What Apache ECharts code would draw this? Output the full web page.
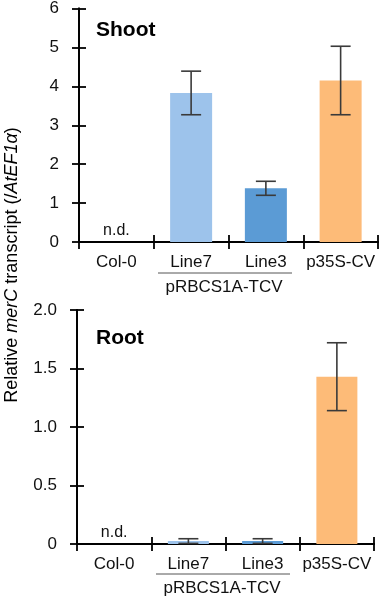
<!DOCTYPE html>
<html>
<head>
<meta charset="utf-8">
<script src="https://cdn.jsdelivr.net/npm/echarts@6/dist/echarts.min.js"></script>
<style>
  html, body { margin: 0; padding: 0; background: #fff; }
  #main { width: 383px; height: 602px; }
</style>
</head>
<body>
<div id="main"></div>
<script>
var categories = ['Col-0', 'Line7', 'Line3', 'p35S-CV'];
var barColors = ['#9dc3eb', '#9dc3eb', '#5b9bd5', '#fdbb78'];

// Shoot
var shootMean = [0, 3.83, 1.38, 4.15];
var shootSd = [0, 0.56, 0.18, 0.88];
var shootTicks = [0, 1, 2, 3, 4, 5, 6];

// Root
var rootMean = [0, 0.025, 0.025, 1.43];
var rootSd = [0, 0.02, 0.02, 0.29];
var rootTicks = [0, 0.5, 1.0, 1.5, 2.0];

var FONT = '"Liberation Sans", Arial, Helvetica, sans-serif';

var chart = echarts.init(document.getElementById('main'));

function barData(means) {
    return means.map(function (v, i) {
        if (i === 0) {
            return {
                value: 0,
                itemStyle: { color: 'transparent' },
                label: {
                    show: true, position: 'top', distance: 3,
                    formatter: 'n.d.', fontSize: 16, color: '#111', fontFamily: FONT
                }
            };
        }
        return { value: v, itemStyle: { color: barColors[i] } };
    });
}

function errData(means, sds) {
    var out = [];
    for (var i = 1; i < means.length; i++) {
        out.push([i, means[i] - sds[i], means[i] + sds[i]]);
    }
    return out;
}

function renderErr(params, api) {
    var lo = api.coord([api.value(0), api.value(1)]);
    var hi = api.coord([api.value(0), api.value(2)]);
    var half = 10;
    var st = { stroke: '#3a3a3a', lineWidth: 1.6 };
    return {
        type: 'group',
        children: [
            { type: 'line', shape: { x1: hi[0], y1: hi[1], x2: lo[0], y2: lo[1] }, style: st },
            { type: 'line', shape: { x1: hi[0] - half, y1: hi[1], x2: hi[0] + half, y2: hi[1] }, style: st },
            { type: 'line', shape: { x1: lo[0] - half, y1: lo[1], x2: lo[0] + half, y2: lo[1] }, style: st }
        ]
    };
}

function xAx(grid, inside) {
    return {
        type: 'category', gridIndex: grid, data: categories, position: 'bottom',
        axisLine: { show: true, lineStyle: { color: '#000', width: 1.8 } },
        axisTick: { show: true, inside: inside, length: 7, lineStyle: { color: '#000', width: 1.8 } },
        axisLabel: { show: !inside, interval: 0, margin: 12, fontSize: 17, color: '#111', fontFamily: FONT },
        splitLine: { show: false }
    };
}

function yAx(grid, inside, max, interval, fmt) {
    return {
        type: 'value', gridIndex: grid, min: 0, max: max, interval: interval, position: 'left',
        axisLine: { show: true, lineStyle: { color: '#000', width: 1.8 } },
        axisTick: { show: true, inside: inside, length: 7, lineStyle: { color: '#000', width: 1.8 } },
        axisLabel: { show: !inside, margin: 20, fontSize: 17, color: '#111', fontFamily: FONT, formatter: fmt },
        splitLine: { show: false }
    };
}

option = {
    animation: false,
    backgroundColor: '#fff',
    grid: [
        { left: 79, right: 5, top: 7, height: 235 },
        { left: 77, right: 9, top: 310, height: 234 }
    ],
    xAxis: [xAx(0, false), xAx(0, true), xAx(1, false), xAx(1, true)],
    yAxis: [
        yAx(0, false, shootTicks[shootTicks.length - 1], 1, function (v) { return String(v); }),
        yAx(0, true, shootTicks[shootTicks.length - 1], 1, function (v) { return String(v); }),
        yAx(1, false, rootTicks[rootTicks.length - 1], 0.5, function (v) { return v === 0 ? '0' : v.toFixed(1); }),
        yAx(1, true, rootTicks[rootTicks.length - 1], 0.5, function (v) { return v === 0 ? '0' : v.toFixed(1); })
    ],
    series: [
        {
            name: 'Shoot', type: 'bar', xAxisIndex: 0, yAxisIndex: 0,
            barWidth: 42, data: barData(shootMean)
        },
        {
            name: 'Shoot SD', type: 'custom', xAxisIndex: 0, yAxisIndex: 0,
            renderItem: renderErr, data: errData(shootMean, shootSd), z: 5
        },
        {
            name: 'Root', type: 'bar', xAxisIndex: 2, yAxisIndex: 2,
            barWidth: 41, data: barData(rootMean)
        },
        {
            name: 'Root SD', type: 'custom', xAxisIndex: 2, yAxisIndex: 2,
            renderItem: renderErr, data: errData(rootMean, rootSd), z: 5
        }
    ],
    graphic: [
        {
            type: 'text', x: 96, y: 30,
            style: { text: 'Shoot', font: 'bold 21px ' + FONT, fill: '#000', textVerticalAlign: 'middle' }
        },
        {
            type: 'text', x: 96, y: 338,
            style: { text: 'Root', font: 'bold 21px ' + FONT, fill: '#000', textVerticalAlign: 'middle' }
        },
        { type: 'line', shape: { x1: 158, y1: 273, x2: 292, y2: 273 }, style: { stroke: '#555', lineWidth: 1 } },
        {
            type: 'text', x: 224, y: 287,
            style: { text: 'pRBCS1A-TCV', font: '17px ' + FONT, fill: '#111', textAlign: 'center', textVerticalAlign: 'middle' }
        },
        { type: 'line', shape: { x1: 156, y1: 574, x2: 290, y2: 574 }, style: { stroke: '#555', lineWidth: 1 } },
        {
            type: 'text', x: 222, y: 588,
            style: { text: 'pRBCS1A-TCV', font: '17px ' + FONT, fill: '#111', textAlign: 'center', textVerticalAlign: 'middle' }
        },
        {
            type: 'text', x: 12, y: 265, rotation: Math.PI / 2,
            style: {
                text: '{n|Relative }{i|merC}{n| transcript (/}{i|AtEF1α}{n|)}',
                textAlign: 'center', textVerticalAlign: 'middle',
                rich: {
                    n: { fontSize: 18, fontFamily: FONT, color: '#111' },
                    i: { fontSize: 18, fontFamily: FONT, fontStyle: 'italic', color: '#111' }
                }
            }
        }
    ]
};

chart.setOption(option);
</script>
</body>
</html>
